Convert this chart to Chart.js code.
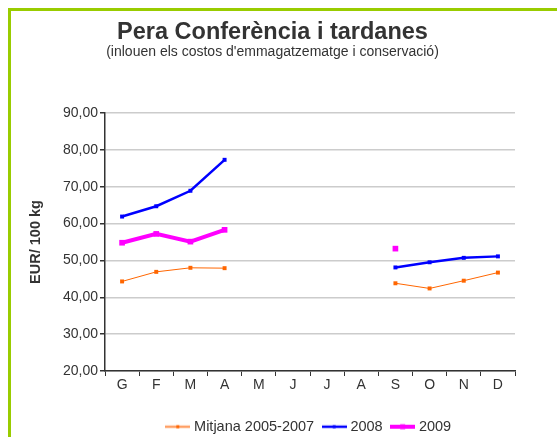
<!DOCTYPE html>
<html>
<head>
<meta charset="utf-8">
<script src="https://cdn.jsdelivr.net/npm/chart.js@4"></script>
<style>
  html, body { margin: 0; padding: 0; background: #fff; overflow: hidden; }
  #wrap { position: relative; width: 557px; height: 437px; overflow: hidden; }
  #frame { position: absolute; left: 8px; top: 8px; width: 600px; height: 500px; border: 3px solid #99cc00; box-sizing: border-box; }
  #title { position: absolute; left: 0; width: 545px; top: 17px; text-align: center; font: bold 23.5px "Liberation Sans", Arial, sans-serif; color: #333; line-height: 28px; }
  #subtitle { position: absolute; left: 0; width: 545px; top: 43px; text-align: center; font: 14px "Liberation Sans", Arial, sans-serif; color: #333; line-height: 16px; }
  canvas { position: absolute; left: 0; top: 0; }
</style>
</head>
<body>
<div id="wrap">
  <div id="frame"></div>
  <canvas id="chart" width="557" height="444"></canvas>
  <div id="title">Pera Conferència i tardanes</div>
  <div id="subtitle">(inlouen els costos d'emmagatzematge i conservació)</div>
</div>
<script>
  // mesos
  const MONTHS = ['G', 'F', 'M', 'A', 'M', 'J', 'J', 'A', 'S', 'O', 'N', 'D'];

  // EUR/100 kg
  const MITJANA = [44.3, 46.9, 48.0, 47.9, null, null, null, null, 43.8, 42.4, 44.5, 46.7];
  const Y2008 = [61.9, 64.7, 68.9, 77.3, null, null, null, null, 48.1, 49.5, 50.7, 51.1];
  const Y2009 = [54.8, 57.2, 55.1, 58.3, null, null, null, null, 53.2, null, null, null];

  const SERIES_NAMES = ['Mitjana 2005-2007', '2008', '2009'];
  const FONT = '"Liberation Sans", Arial, sans-serif';

  // icona de llegenda: línia amb marcador quadrat
  function legendIcon(lineColor, markColor, lw, sq) {
    const c = document.createElement('canvas');
    c.width = 25; c.height = 8;
    const g = c.getContext('2d');
    g.strokeStyle = lineColor;
    g.lineWidth = lw;
    g.beginPath();
    g.moveTo(0, 4);
    g.lineTo(25, 4);
    g.stroke();
    g.fillStyle = markColor;
    g.fillRect(12.5 - sq / 2, 4 - sq / 2, sq, sq);
    return c;
  }

  const icons = [
    legendIcon('#ffa066', '#ff6600', 2.5, 3),
    legendIcon('#0000ff', '#0000ff', 2.5, 3),
    legendIcon('#ff00ff', '#ff00ff', 4, 5)
  ];

  new Chart(document.getElementById('chart'), {
    type: 'line',
    data: {
      labels: MONTHS,
      datasets: [
        {
          label: SERIES_NAMES[0],
          data: MITJANA,
          borderColor: '#ff6600',
          backgroundColor: '#ff6600',
          borderWidth: 1,
          pointStyle: 'rect',
          pointRadius: 2.8,
          pointBorderWidth: 0
        },
        {
          label: SERIES_NAMES[1],
          data: Y2008,
          borderColor: '#0000ff',
          backgroundColor: '#0000ff',
          borderWidth: 2.5,
          pointStyle: 'rect',
          pointRadius: 2.8,
          pointBorderWidth: 0
        },
        {
          label: SERIES_NAMES[2],
          data: Y2009,
          borderColor: '#ff00ff',
          backgroundColor: '#ff00ff',
          borderWidth: 4,
          pointStyle: 'rect',
          pointRadius: 4,
          pointBorderWidth: 0
        }
      ]
    },
    options: {
      responsive: false,
      animation: false,
      spanGaps: false,
      layout: { padding: { top: 113, left: 24, right: 42, bottom: 0 } },
      plugins: {
        tooltip: { enabled: false },
        legend: {
          position: 'bottom',
          fullSize: false,
          labels: {
            usePointStyle: true,
            pointStyleWidth: 18,
            padding: 11,
            color: '#333',
            font: { family: FONT, size: 14.5 },
            generateLabels: (chart) => {
              const items = Chart.defaults.plugins.legend.labels.generateLabels(chart);
              items.forEach((it, i) => { it.pointStyle = icons[i]; });
              return items;
            }
          }
        }
      },
      scales: {
        x: {
          offset: true,
          grid: {
            offset: true,
            drawOnChartArea: false,
            tickLength: 5,
            tickColor: '#333',
            color: '#333'
          },
          border: { color: '#333', width: 1.5 },
          ticks: { color: '#333', font: { family: FONT, size: 14 }, padding: 1 },
          afterFit: (scale) => { scale.height = 37.5; }
        },
        y: {
          min: 20,
          max: 90,
          ticks: {
            stepSize: 10,
            color: '#333',
            font: { family: FONT, size: 14 },
            padding: 2,
            callback: (v) => v.toFixed(2).replace('.', ',')
          },
          grid: { color: '#cccccc', lineWidth: 1.5, tickLength: 5, tickColor: '#333' },
          border: { color: '#333', width: 1.5 },
          title: {
            display: true,
            text: 'EUR/ 100 kg',
            color: '#333',
            font: { family: FONT, size: 14.5, weight: 'bold' },
            padding: 3
          },
          afterFit: (scale) => { scale.width = 81; }
        }
      }
    }
  });
</script>
</body>
</html>
